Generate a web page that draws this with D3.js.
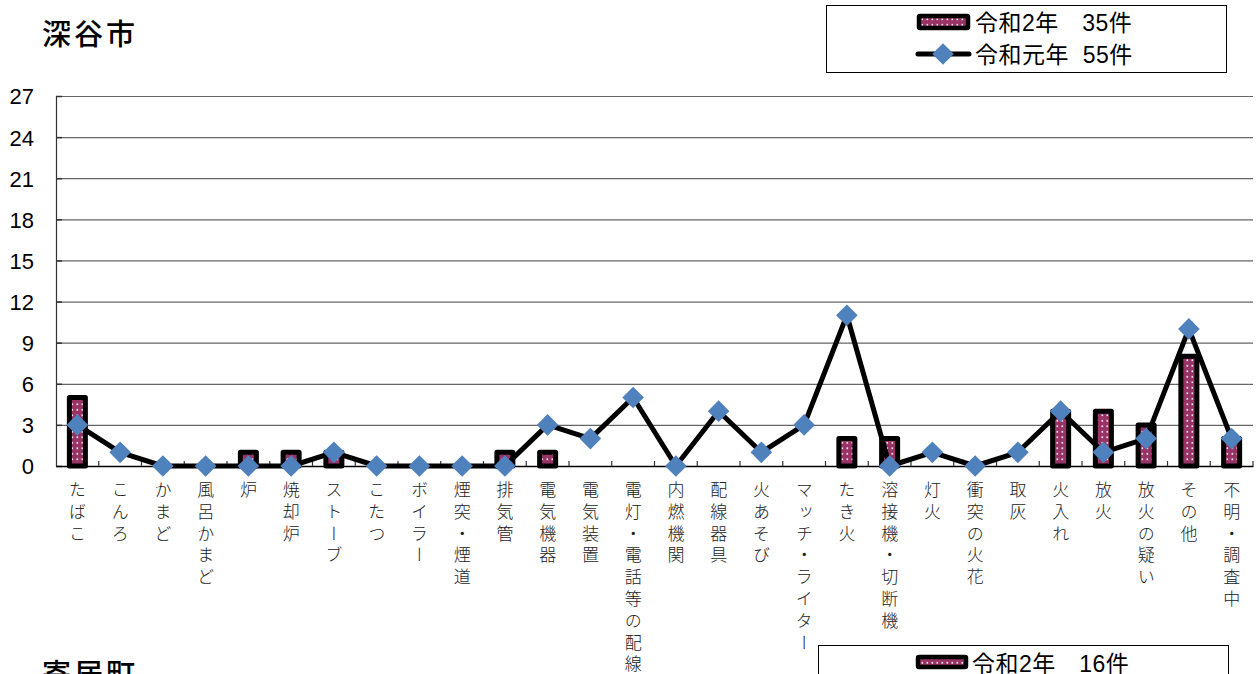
<!DOCTYPE html>
<html><head><meta charset="utf-8">
<script src="https://cdn.jsdelivr.net/npm/d3@7"></script>
<style>
html,body{margin:0;padding:0;background:#fff;overflow:hidden}
svg{display:block}
.vlab{writing-mode:vertical-rl;text-orientation:upright}
</style></head>
<body>
<svg id="chart" width="1256" height="674"></svg>
<script>
const categories = ["たばこ","こんろ","かまど","風呂かまど","炉","焼却炉","ストーブ","こたつ","ボイラー","煙突・煙道","排気管","電気機器","電気装置","電灯・電話等の配線","内燃機関","配線器具","火あそび","マッチ・ライター","たき火","溶接機・切断機","灯火","衝突の火花","取灰","火入れ","放火","放火の疑い","その他","不明・調査中"];
const r2Values = [5,0,0,0,1,1,1,0,0,0,1,1,0,0,0,0,0,0,2,2,0,0,0,4,4,3,8,2];
const r1Values = [3,1,0,0,0,0,1,0,0,0,0,3,2,5,0,4,1,3,11,0,1,0,1,4,1,2,10,2];
const yTicks = [0,3,6,9,12,15,18,21,24,27];
const titleText = "深谷市";
const legendLabels = ["令和2年　35件","令和元年  55件"];
const nextTitle = "寄居町";
const nextLegend = "令和2年　16件";

const svg = d3.select("#chart");
const JP = "'Noto Sans CJK JP','Noto Sans CJK SC',sans-serif";
const MIX = "'Liberation Sans','Noto Sans CJK JP',sans-serif";
const BAR = "#993366", BLUE = "#4F81BD";

const defs = svg.append("defs");
const pat = defs.append("pattern").attr("id","dots").attr("patternUnits","userSpaceOnUse")
  .attr("width",5).attr("height",5.5);
pat.append("rect").attr("width",5).attr("height",5.5).attr("fill",BAR);
pat.append("rect").attr("x",1.5).attr("y",2).attr("width",1.6).attr("height",1.6).attr("fill","#fff");

const pLeft = 56, pRight = 1253, pTop = 96, pBottom = 466;
const x = d3.scaleBand().domain(categories).range([pLeft, pRight]);
const y = d3.scaleLinear().domain([0,27]).range([pBottom, pTop]);
const cx = d => x(d) + x.bandwidth()/2;

// title
svg.append("text").attr("x",42).attr("y",45).attr("font-family",JP).attr("font-size",29)
  .attr("font-weight",500).attr("letter-spacing",3).attr("fill","#000").text(titleText);

// gridlines
svg.append("g").selectAll("line").data(yTicks.filter(t=>t>0)).join("line")
  .attr("x1",pLeft).attr("x2",pRight).attr("y1",d=>y(d)+0.5).attr("y2",d=>y(d)+0.5)
  .attr("stroke","#666").attr("stroke-width",1.2);

// y axis
const yAxis = svg.append("g").attr("transform",`translate(${pLeft},0)`)
  .call(d3.axisLeft(y).tickValues(yTicks).tickSize(-6).tickPadding(22).tickFormat(d3.format("d")));
yAxis.select(".domain").attr("stroke","#333").attr("stroke-width",1.2);
yAxis.selectAll(".tick line").attr("stroke","#333").attr("stroke-width",1.5);
yAxis.selectAll(".tick text").attr("font-family","'Liberation Sans',Arial,sans-serif")
  .attr("font-size",22).attr("fill","#000").attr("dy","0.36em");

// x axis
const xAxis = svg.append("g").attr("transform",`translate(0,${pBottom})`)
  .call(d3.axisBottom(x).tickSize(0).tickFormat(""));
xAxis.select(".domain").attr("stroke","#000").attr("stroke-width",1.5);
svg.append("g").selectAll("line").data(categories.slice(1).concat(["__end"])).join("line")
  .attr("x1",d=> d==="__end"? pRight : x(d)).attr("x2",d=> d==="__end"? pRight : x(d))
  .attr("y1",pBottom).attr("y2",pBottom-5).attr("stroke","#333").attr("stroke-width",1.2);

// vertical x labels
svg.append("g").attr("font-family",JP).attr("font-size",17).attr("font-weight",300).attr("fill","#222")
  .selectAll("text").data(categories).join("text")
  .attr("class","vlab")
  .attr("x",d=>cx(d)).attr("y",481)
  .attr("letter-spacing",4.8)
  .text(d=>d);

// bars
svg.append("g").selectAll("rect").data(categories.map((c,i)=>({c,v:r2Values[i]})).filter(d=>d.v>0))
  .join("rect")
  .attr("x",d=>cx(d.c)-8).attr("width",16)
  .attr("y",d=>y(d.v)).attr("height",d=>y(0)-y(d.v))
  .attr("fill","url(#dots)").attr("stroke","#000").attr("stroke-width",5).attr("stroke-linejoin","round");

// line
const line = d3.line().x((d,i)=>cx(categories[i])).y(d=>y(d));
svg.append("path").datum(r1Values).attr("d",line).attr("fill","none")
  .attr("stroke","#000").attr("stroke-width",5).attr("stroke-linejoin","round");
const dia = d3.symbol().type(d3.symbolSquare).size(235);
svg.append("g").selectAll("path").data(r1Values).join("path")
  .attr("d",dia)
  .attr("transform",(d,i)=>`translate(${cx(categories[i])},${y(d)}) rotate(45)`)
  .attr("fill",BLUE);

// legend
const lg = svg.append("g");
lg.append("rect").attr("x",826.5).attr("y",5.5).attr("width",400).attr("height",67)
  .attr("fill","#fff").attr("stroke","#000").attr("stroke-width",1);
lg.append("rect").attr("x",919).attr("y",16).attr("width",49).attr("height",12)
  .attr("fill","url(#dots)").attr("stroke","#000").attr("stroke-width",4.5).attr("rx",1);
lg.append("text").attr("x",975).attr("y",31).attr("font-family",MIX).attr("font-size",23)
  .attr("letter-spacing",0.5).attr("fill","#000").style("white-space","pre").text(legendLabels[0]);
lg.append("line").attr("x1",918).attr("x2",969).attr("y1",54).attr("y2",54)
  .attr("stroke","#000").attr("stroke-width",5).attr("stroke-linecap","round");
lg.append("path").attr("d",dia).attr("transform","translate(943,54) rotate(45)").attr("fill",BLUE);
lg.append("text").attr("x",975).attr("y",63).attr("font-family",MIX).attr("font-size",23)
  .attr("letter-spacing",0.5).attr("fill","#000").style("white-space","pre").text(legendLabels[1]);

// next chart (clipped)
svg.append("text").attr("x",42).attr("y",685).attr("font-family",JP).attr("font-size",29)
  .attr("font-weight",500).attr("letter-spacing",3).attr("fill","#000").text(nextTitle);
const lg2 = svg.append("g");
lg2.append("rect").attr("x",818.5).attr("y",645.5).attr("width",410).attr("height",60)
  .attr("fill","#fff").attr("stroke","#000").attr("stroke-width",1);
lg2.append("rect").attr("x",918).attr("y",657).attr("width",48).attr("height",10)
  .attr("fill","url(#dots)").attr("stroke","#000").attr("stroke-width",4.5).attr("rx",1);
lg2.append("text").attr("x",972).attr("y",672).attr("font-family",MIX).attr("font-size",23)
  .attr("letter-spacing",0.5).attr("fill","#000").style("white-space","pre").text(nextLegend);
</script>
</body></html>
